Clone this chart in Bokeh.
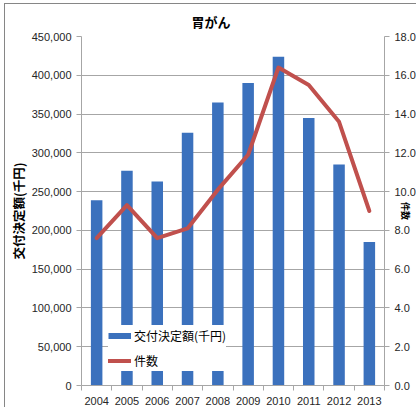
from bokeh.plotting import figure
from bokeh.models import (Range1d, LinearAxis, FixedTicker, NumeralTickFormatter,
                          Legend, LegendItem)
from bokeh.embed import file_html
from bokeh.resources import INLINE

years = [2004, 2005, 2006, 2007, 2008, 2009, 2010, 2011, 2012, 2013]
amount = [239000, 277000, 263000, 326000, 365000, 390000, 424000, 345000, 285000, 185000]
count = [7.6, 9.3, 7.6, 8.1, 10.1, 11.9, 16.4, 15.5, 13.6, 9.0]
left_ticks = [0, 50000, 100000, 150000, 200000, 250000, 300000, 350000, 400000, 450000]
right_ticks = [0, 2, 4, 6, 8, 10, 12, 14, 16, 18]
title_text = "胃がん"
bar_label = "交付決定額(千円)"
line_label = "件数"

JP = "Noto Sans CJK JP"
NUM = "Liberation Sans"
GRID = "#a6a6a6"
TXT = "#262626"
BLUE = "#3b71bd"
RED = "#c0504d"

p = figure(frame_width=303, frame_height=349, output_backend="svg", toolbar_location=None,
           x_range=Range1d(years[0] - 0.5, years[-1] + 0.5),
           y_range=Range1d(left_ticks[0], left_ticks[-1]),
           min_border_left=70, min_border_right=32, min_border_top=26, min_border_bottom=22)
p.margin = (0, 0, 0, 4)
p.styles = {"border-left": "1px solid #868686", "border-top": "1px solid #868686",
            "position": "relative", "top": "3px"}
p.outline_line_color = None
p.background_fill_color = "white"
p.border_fill_color = "white"

p.extra_y_ranges = {"cnt": Range1d(right_ticks[0], right_ticks[-1])}

# title
p.title.text = title_text
p.title.align = "left"
p.title.offset = 110
p.title.text_font = JP
p.title.text_font_size = "13px"
p.title.text_font_style = "bold"
p.title.text_color = "#000000"
p.title.standoff = 11

# x axis
xa = p.xaxis[0]
xa.ticker = FixedTicker(ticks=years, minor_ticks=[y - 0.5 for y in years] + [years[-1] + 0.5])
xa.major_tick_line_color = None
xa.major_tick_out = 5
xa.major_tick_in = 0
xa.minor_tick_line_color = GRID
xa.minor_tick_out = 5
xa.minor_tick_in = 0
xa.axis_line_color = GRID
xa.major_label_text_font = NUM
xa.major_label_text_font_size = "11px"
xa.major_label_text_color = TXT
xa.major_label_standoff = 6

# left axis
ya = p.yaxis[0]
ya.ticker = FixedTicker(ticks=left_ticks)
ya.formatter = NumeralTickFormatter(format="0,0")
ya.axis_line_color = GRID
ya.major_tick_line_color = GRID
ya.major_tick_out = 5
ya.major_tick_in = 0
ya.minor_tick_line_color = None
ya.major_label_text_font = NUM
ya.major_label_text_font_size = "11px"
ya.major_label_text_color = TXT
ya.major_label_standoff = 5
ya.axis_label = bar_label
ya.axis_label_text_font = JP
ya.axis_label_text_font_size = "12.5px"
ya.axis_label_text_font_style = "bold"
ya.axis_label_text_color = "#000000"
ya.axis_label_standoff = 1

# right axis (its title squeezed between the tick labels, against the edge)
ra = LinearAxis(y_range_name="cnt", ticker=FixedTicker(ticks=right_ticks),
                formatter=NumeralTickFormatter(format="0.0"))
ra.axis_line_color = GRID
ra.major_tick_line_color = GRID
ra.major_tick_out = 5
ra.major_tick_in = 0
ra.minor_tick_line_color = None
ra.major_label_text_font = NUM
ra.major_label_text_font_size = "11px"
ra.major_label_text_color = TXT
ra.major_label_standoff = 5
ra.axis_label = line_label
ra.axis_label_text_font = JP
ra.axis_label_text_font_size = "9px"
ra.axis_label_text_font_style = "bold"
ra.axis_label_text_color = "#000000"
ra.axis_label_standoff = -20
p.add_layout(ra, "right")

# grid
p.xgrid.grid_line_color = None
p.ygrid.ticker = FixedTicker(ticks=left_ticks)
p.ygrid.grid_line_color = GRID

# bars and line
bars = p.vbar(x=years, top=amount, width=0.38, fill_color=BLUE, line_color=None)
ln = p.line(x=years, y=count, y_range_name="cnt", line_color=RED, line_width=4,
            line_join="round", line_cap="round")

# legend swatch for the bar series (drawn only in the legend)
bar_sw = p.line(x=years[:1], y=[float("nan")], line_color=BLUE, line_width=6)
legend = Legend(items=[LegendItem(label=bar_label, renderers=[bar_sw]),
                       LegendItem(label=line_label, renderers=[ln])],
                location=(27, 14), orientation="vertical")
legend.background_fill_color = "white"
legend.background_fill_alpha = 1.0
legend.border_line_color = None
legend.label_text_font = JP
legend.label_text_font_size = "12px"
legend.label_text_color = "#000000"
legend.glyph_width = 23
legend.glyph_height = 21
legend.label_height = 21
legend.label_standoff = 3
legend.spacing = 4
legend.padding = 2
legend.margin = 0
p.add_layout(legend, "center")

open("out.html", "w").write(file_html(p, INLINE))
